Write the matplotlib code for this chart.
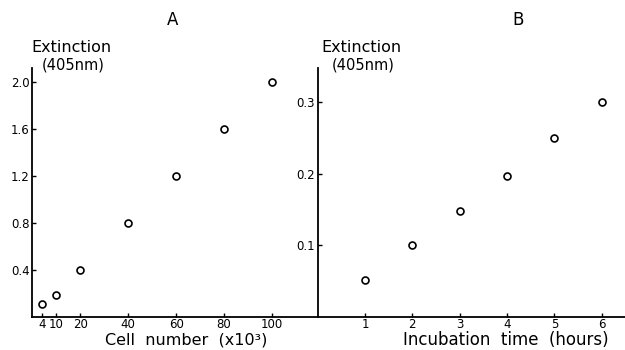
import matplotlib
matplotlib.use("Agg")
import matplotlib.pyplot as plt

# Panel A: extinction vs. cell number
cells = [4, 10, 20, 40, 60, 80, 100]
ext_a = [0.11, 0.19, 0.40, 0.80, 1.20, 1.60, 2.00]
a_xticks = [4, 10, 20, 40, 60, 80, 100]
a_yticks = [0.4, 0.8, 1.2, 1.6, 2.0]

# Panel B: extinction vs. incubation time
hours = [1, 2, 3, 4, 5, 6]
ext_b = [0.052, 0.10, 0.148, 0.197, 0.25, 0.30]
b_xticks = [1, 2, 3, 4, 5, 6]
b_yticks = [0.1, 0.2, 0.3]

W, H = 625, 350
fig = plt.figure(figsize=(W / 100, H / 100), dpi=100)
plt.rcParams['font.family'] = ['DejaVu Sans']


def px_axes(x0, y0, x1, y1):
    """Axes box given in pixel coords measured from the top-left corner."""
    return fig.add_axes([x0 / W, 1 - y1 / H, (x1 - x0) / W, (y1 - y0) / H])


def style(ax):
    for s in ("top", "right"):
        ax.spines[s].set_visible(False)
    for s in ("left", "bottom"):
        ax.spines[s].set_linewidth(1.3)
        ax.spines[s].set_color("black")
    ax.tick_params(direction="in", length=3, width=1.0, labelsize=8.5,
                   colors="black", pad=2)
    ax.tick_params(axis="x", pad=1)
    ax.patch.set_alpha(0)


axA = px_axes(32.4, 68, 318, 317)
axA.plot(cells, ext_a, "o", ms=5, mfc="white", mec="black", mew=1.2)
axA.set_xlim(0, 119.2)
axA.set_ylim(0, 2.12)
axA.set_xticks(a_xticks)
axA.set_yticks(a_yticks)
axA.set_yticklabels([f"{v:.1f}" for v in a_yticks])
style(axA)

axB = px_axes(317.6, 68, 625, 317)
axB.plot(hours, ext_b, "o", ms=5, mfc="white", mec="black", mew=1.2)
axB.set_xlim(0, 6.49)
axB.set_ylim(0, 0.348)
axB.set_xticks(b_xticks)
axB.set_yticks(b_yticks)
axB.set_yticklabels([f"{v:.1f}" for v in b_yticks])
style(axB)


def ftext(x, y, s, **kw):
    fig.text(x / W, 1 - y / H, s, va="center", color="black", **kw)


ftext(173, 20, "A", ha="center", fontsize=12)
ftext(518, 20, "B", ha="center", fontsize=12)

ftext(31, 48, "Extinction", ha="left", fontsize=11.5)
ftext(42, 65.5, "(405nm)", ha="left", fontsize=10.5)
ftext(321, 48, "Extinction", ha="left", fontsize=11.5)
ftext(332, 65.5, "(405nm)", ha="left", fontsize=10.5)

ftext(186, 340, "Cell  number  (x10³)", ha="center", fontsize=11.5)
ftext(506, 340, "Incubation  time  (hours)", ha="center", fontsize=12)

fig.savefig("out.png", dpi=100)
